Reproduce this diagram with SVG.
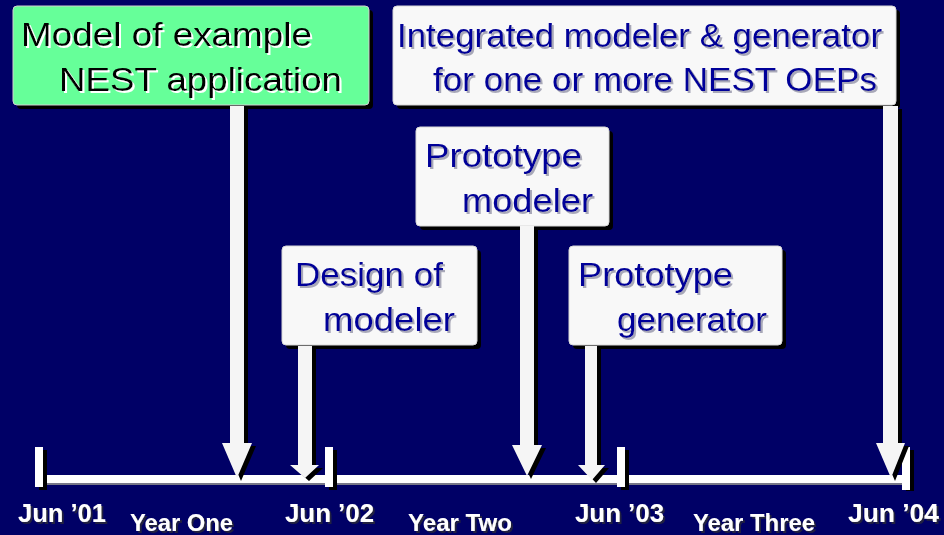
<svg xmlns="http://www.w3.org/2000/svg" width="944" height="535" viewBox="0 0 944 535">
<defs>
  <filter id="shBlue" x="-5%" y="-20%" width="110%" height="150%">
    <feFlood flood-color="#a8a8b8"/>
    <feComposite in2="SourceAlpha" operator="in"/>
    <feOffset dx="2" dy="2" result="s"/>
    <feMerge><feMergeNode in="s"/><feMergeNode in="SourceGraphic"/></feMerge>
  </filter>
  <filter id="shGreen" x="-5%" y="-20%" width="110%" height="150%">
    <feFlood flood-color="#ffffff"/>
    <feComposite in2="SourceAlpha" operator="in"/>
    <feOffset dx="1.5" dy="1.5" result="s"/>
    <feMerge><feMergeNode in="s"/><feMergeNode in="SourceGraphic"/></feMerge>
  </filter>
  <filter id="shLab" x="-5%" y="-20%" width="110%" height="150%">
    <feFlood flood-color="#202040"/>
    <feComposite in2="SourceAlpha" operator="in"/>
    <feOffset dx="2" dy="2" result="s"/>
    <feMerge><feMergeNode in="s"/><feMergeNode in="SourceGraphic"/></feMerge>
  </filter>
</defs>
<style>
.bg{fill:#000066}
.box{fill:#f8f8f8;stroke:#d8d8d8;stroke-width:1}
.gbox{fill:#66ff99;stroke:#d0d0d0;stroke-width:1}
.bsh{fill:#000000}
.t{font-family:"Liberation Sans",Arial,sans-serif;font-size:34px}
.tb{fill:#000099;filter:url(#shBlue)}
.tg{fill:#000000;filter:url(#shGreen)}
.lab{font-family:"Liberation Sans",Arial,sans-serif;font-weight:bold;fill:#ffffff;filter:url(#shLab)}
.jun{font-size:25px}
.yr{font-size:23px}
.arr{fill:#f5f5f5}
.ash{fill:#000000}
.tl{fill:#ffffff}
.tls{fill:#000000}
</style>
<rect class="bg" x="0" y="0" width="944" height="535"/>

<g id="timeline">
  <rect x="40" y="477" width="866" height="8" fill="#777788"/>
  <rect class="tl" x="40" y="475" width="866" height="8"/>
  <rect class="tls" x="39" y="450" width="8" height="40"/>
  <rect class="tl" x="35" y="447" width="8" height="40"/>
  <rect class="tls" x="329" y="450" width="8" height="40"/>
  <rect class="tl" x="325" y="447" width="8" height="40"/>
  <rect class="tls" x="621" y="450" width="8" height="40"/>
  <rect class="tl" x="617" y="447" width="8" height="40"/>
  <rect class="tls" x="906" y="450" width="8" height="41"/>
  <rect class="tl" x="902" y="447" width="8" height="43"/>
</g>

<g id="labels">
  <text class="lab jun" x="18" y="522" textLength="88" lengthAdjust="spacingAndGlyphs">Jun ’01</text>
  <text class="lab yr" x="130" y="531" textLength="103" lengthAdjust="spacingAndGlyphs">Year One</text>
  <text class="lab jun" x="285" y="522" textLength="89" lengthAdjust="spacingAndGlyphs">Jun ’02</text>
  <text class="lab yr" x="408" y="531" textLength="104" lengthAdjust="spacingAndGlyphs">Year Two</text>
  <text class="lab jun" x="575" y="522" textLength="89" lengthAdjust="spacingAndGlyphs">Jun ’03</text>
  <text class="lab yr" x="693" y="531" textLength="122" lengthAdjust="spacingAndGlyphs">Year Three</text>
  <text class="lab jun" x="848" y="522" textLength="91" lengthAdjust="spacingAndGlyphs">Jun ’04</text>
</g>

<g id="node-model">
  <rect class="bsh" x="17" y="10" width="356" height="99" rx="4"/>
  <rect class="gbox" x="13" y="6" width="356" height="99" rx="4"/>
  <text class="t tg" x="21" y="46" textLength="291" lengthAdjust="spacingAndGlyphs">Model of example</text>
  <text class="t tg" x="59" y="91" textLength="283" lengthAdjust="spacingAndGlyphs">NEST application</text>
</g>

<g id="node-integrated">
  <rect class="bsh" x="397" y="10" width="503" height="99" rx="4"/>
  <rect class="box" x="393" y="6" width="503" height="99" rx="4"/>
  <text class="t tb" x="397" y="47" textLength="485" lengthAdjust="spacingAndGlyphs">Integrated modeler &amp; generator</text>
  <text class="t tb" x="433" y="91" textLength="444" lengthAdjust="spacingAndGlyphs">for one or more NEST OEPs</text>
</g>

<g id="node-proto-modeler">
  <rect class="bsh" x="420" y="131" width="193" height="99" rx="4"/>
  <rect class="box" x="416" y="127" width="193" height="99" rx="4"/>
  <text class="t tb" x="425" y="167" textLength="157" lengthAdjust="spacingAndGlyphs">Prototype</text>
  <text class="t tb" x="462" y="212" textLength="131" lengthAdjust="spacingAndGlyphs">modeler</text>
</g>

<g id="node-design">
  <rect class="bsh" x="286" y="250" width="195" height="99" rx="4"/>
  <rect class="box" x="282" y="246" width="195" height="99" rx="4"/>
  <text class="t tb" x="295" y="286" textLength="148" lengthAdjust="spacingAndGlyphs">Design of</text>
  <text class="t tb" x="323" y="331" textLength="132" lengthAdjust="spacingAndGlyphs">modeler</text>
</g>

<g id="node-proto-generator">
  <rect class="bsh" x="573" y="250" width="213" height="99" rx="4"/>
  <rect class="box" x="569" y="246" width="213" height="99" rx="4"/>
  <text class="t tb" x="578" y="286" textLength="155" lengthAdjust="spacingAndGlyphs">Prototype</text>
  <text class="t tb" x="617" y="331" textLength="150" lengthAdjust="spacingAndGlyphs">generator</text>
</g>

<g id="connectors">
  <g transform="translate(4,3)">
    <polygon class="ash" points="230,106 244,106 244,443 252,443 237,478 222,443 230,443"/>
    <polygon class="ash" points="298,346 312,346 312,465 319,465 305,478 290,465 298,465"/>
    <polygon class="ash" points="520,226 534,226 534,445 542,445 527,476 512,445 520,445"/>
    <polygon class="ash" points="585,346 597,346 597,465 605,465 592,480 578,465 585,465"/>
    <polygon class="ash" points="883,106 898,106 898,443 905,443 891,478 876,443 883,443"/>
  </g>
  <polygon class="arr" points="230,106 244,106 244,443 252,443 237,478 222,443 230,443"/>
  <polygon class="arr" points="298,346 312,346 312,465 319,465 305,478 290,465 298,465"/>
  <polygon class="arr" points="520,226 534,226 534,445 542,445 527,476 512,445 520,445"/>
  <polygon class="arr" points="585,346 597,346 597,465 605,465 592,480 578,465 585,465"/>
  <polygon class="arr" points="883,106 898,106 898,443 905,443 891,478 876,443 883,443"/>
</g>
</svg>
